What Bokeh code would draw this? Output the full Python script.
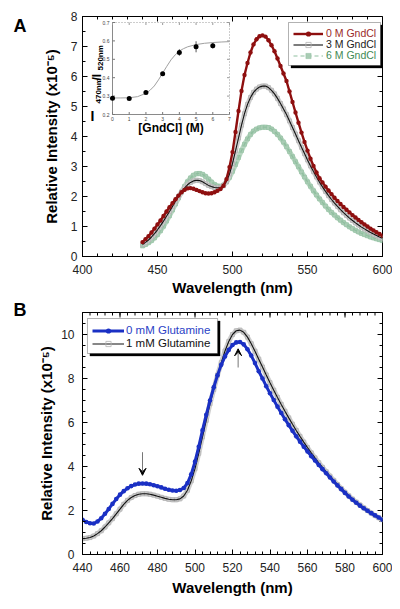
import math
from bokeh.plotting import figure
from bokeh.layouts import column
from bokeh.models import (Range1d, SingleIntervalTicker, Legend, LegendItem,
                          BoxAnnotation, Label, Arrow, VeeHead)
from bokeh.core.properties import value
from bokeh.embed import file_html
from bokeh.resources import INLINE

FONT = "Liberation Sans"

# ---------------- data: panel A ----------------
wavelength_a = list(range(440, 601, 2))
gndcl_0M = [0.48, 0.58, 0.68, 0.80, 0.93, 1.07, 1.20, 1.35, 1.50, 1.64, 1.78, 1.91, 2.03, 2.14, 2.22, 2.27,
            2.28, 2.26, 2.22, 2.18, 2.14, 2.11, 2.10, 2.11, 2.14, 2.19, 2.25, 2.36, 2.58, 2.98, 3.48,
            4.15, 4.85, 5.52, 6.05, 6.45, 6.80, 7.07, 7.24, 7.34, 7.37, 7.33, 7.21, 7.04, 6.84, 6.60,
            6.35, 6.10, 5.85, 5.50, 5.15, 4.80, 4.46, 4.13, 3.82, 3.53, 3.26, 3.02, 2.80, 2.61, 2.47,
            2.33, 2.20, 2.08, 1.96, 1.85, 1.75, 1.65, 1.56, 1.47, 1.38, 1.30, 1.22, 1.14, 1.07, 1.00,
            0.93, 0.87, 0.81, 0.75, 0.69]
gndcl_3M = [0.40, 0.47, 0.55, 0.65, 0.76, 0.89, 1.03, 1.18, 1.34, 1.50, 1.67, 1.84, 2.00, 2.15, 2.28, 2.39,
            2.47, 2.52, 2.54, 2.53, 2.49, 2.43, 2.37, 2.33, 2.30, 2.29, 2.30, 2.36, 2.50, 2.75, 3.10,
            3.52, 3.95, 4.38, 4.76, 5.07, 5.30, 5.47, 5.58, 5.65, 5.68, 5.68, 5.63, 5.54, 5.42, 5.27,
            5.10, 4.92, 4.73, 4.52, 4.30, 4.08, 3.86, 3.64, 3.43, 3.22, 3.02, 2.83, 2.65, 2.48, 2.32,
            2.17, 2.03, 1.90, 1.78, 1.67, 1.56, 1.46, 1.37, 1.28, 1.20, 1.12, 1.05, 0.98, 0.92, 0.86,
            0.80, 0.75, 0.70, 0.65, 0.61]
gndcl_6M = [0.35, 0.40, 0.46, 0.53, 0.62, 0.73, 0.86, 1.01, 1.18, 1.36, 1.55, 1.75, 1.95, 2.15, 2.33, 2.49,
            2.62, 2.71, 2.76, 2.77, 2.74, 2.67, 2.58, 2.48, 2.40, 2.35, 2.34, 2.38, 2.48, 2.64, 2.84,
            3.07, 3.30, 3.53, 3.74, 3.92, 4.07, 4.18, 4.25, 4.29, 4.31, 4.31, 4.30, 4.25, 4.17, 4.07,
            3.95, 3.81, 3.66, 3.50, 3.33, 3.16, 2.99, 2.82, 2.65, 2.49, 2.34, 2.19, 2.05, 1.92, 1.80,
            1.68, 1.57, 1.47, 1.38, 1.29, 1.21, 1.13, 1.06, 0.99, 0.93, 0.87, 0.82, 0.77, 0.73, 0.69,
            0.65, 0.62, 0.59, 0.56, 0.53]
gndcl_labels = ["0 M GndCl", "3 M GndCl", "6 M GndCl"]

# inset: ratio I470/I520 vs [GndCl]
inset_conc = [0, 1, 2, 3, 4, 5, 6]
inset_ratio = [0.288, 0.287, 0.319, 0.422, 0.537, 0.568, 0.574]
inset_err_conc = [4, 5, 6]
inset_err_ratio = [0.537, 0.568, 0.574]
inset_err = [0.018, 0.030, 0.015]
fit_conc = [0, 0.5, 1, 1.5, 2, 2.25, 2.5, 2.75, 3, 3.25, 3.5, 3.75, 4, 4.25, 4.5, 5, 5.5, 6, 6.5, 7]
fit_ratio = [0.290, 0.290, 0.291, 0.297, 0.315, 0.332, 0.355, 0.388, 0.425, 0.462, 0.497, 0.524,
             0.545, 0.558, 0.568, 0.580, 0.587, 0.591, 0.594, 0.596]
inset_xticks = [0, 1, 2, 3, 4, 5, 6, 7]
inset_yticks = [0.2, 0.3, 0.4, 0.5, 0.6, 0.7]

# ---------------- data: panel B ----------------
wavelength_b = list(range(440, 601, 2))
glutamine_0mM = [1.58, 1.48, 1.42, 1.41, 1.50, 1.65, 1.85, 2.07, 2.30, 2.52, 2.72, 2.88, 3.01, 3.11, 3.18, 3.22,
                 3.23, 3.22, 3.19, 3.15, 3.10, 3.05, 2.99, 2.94, 2.91, 2.90, 2.93, 3.02, 3.25, 3.65, 4.22,
                 4.90, 5.65, 6.35, 7.00, 7.60, 8.15, 8.62, 9.00, 9.30, 9.52, 9.64, 9.66, 9.55, 9.33, 9.04,
                 8.70, 8.33, 8.00, 7.65, 7.33, 7.02, 6.72, 6.43, 6.15, 5.88, 5.62, 5.37, 5.13, 4.90, 4.68,
                 4.47, 4.27, 4.07, 3.88, 3.69, 3.50, 3.32, 3.14, 2.97, 2.80, 2.64, 2.49, 2.35, 2.22, 2.10,
                 1.99, 1.88, 1.78, 1.68, 1.58]
glutamine_1mM = [0.72, 0.74, 0.77, 0.84, 0.95, 1.08, 1.25, 1.44, 1.63, 1.85, 2.06, 2.28, 2.46, 2.59, 2.68, 2.74,
                 2.76, 2.76, 2.74, 2.70, 2.65, 2.60, 2.55, 2.51, 2.49, 2.49, 2.53, 2.66, 2.92, 3.35, 3.90,
                 4.60, 5.35, 6.10, 6.85, 7.50, 8.15, 8.72, 9.25, 9.68, 10.00, 10.17, 10.20, 10.10, 9.88, 9.58,
                 9.24, 8.88, 8.52, 8.16, 7.81, 7.47, 7.14, 6.82, 6.51, 6.21, 5.92, 5.64, 5.37, 5.11, 4.86,
                 4.62, 4.39, 4.17, 3.96, 3.76, 3.56, 3.37, 3.18, 3.00, 2.83, 2.67, 2.52, 2.38, 2.25, 2.12,
                 2.00, 1.88, 1.77, 1.67, 1.58]
glutamine_labels = ["0 mM Glutamine", "1 mM Glutamine"]
arrow_wl = [472, 523]
arrow_from = [4.65, 8.5]
arrow_to = [3.6, 9.35]

# ---------------- colours ----------------
RED = "#8e0f0f"
RED_TXT = "#9b2a2a"
GREEN_MK = "#a9ccb4"
GREEN_BAND = "#b8d6c1"
GREEN_LN = "#8fbf9f"
GREEN_TXT = "#3f8a55"
BLUE = "#1a30c4"
BLUE_TXT = "#2b3fc6"
GRAY_MK = "#b4b4b4"
GRAY_BAND = "#cfcfcf"


def make_fig(w, h, xr, yr, ml, mr, mt, mb):
    p = figure(width=w, height=h, x_range=Range1d(*xr), y_range=Range1d(*yr),
               output_backend="svg", toolbar_location=None,
               min_border_left=ml, min_border_right=mr, min_border_top=mt, min_border_bottom=mb)
    p.outline_line_color = "black"
    p.outline_line_width = 1
    p.xgrid.visible = False
    p.ygrid.visible = False
    p.background_fill_color = "white"
    p.border_fill_color = "white"
    return p


def style_axis(ax, standoff, label_standoff, label):
    ax.axis_line_color = "black"
    ax.major_tick_line_color = "black"
    ax.minor_tick_line_color = "black"
    ax.major_tick_in = 5
    ax.major_tick_out = 0
    ax.minor_tick_in = 3
    ax.minor_tick_out = 0
    ax.major_label_text_font = FONT
    ax.major_label_text_font_size = "12px"
    ax.major_label_text_color = "#222222"
    ax.major_label_standoff = standoff
    ax.axis_label = label
    ax.axis_label_text_font = FONT
    ax.axis_label_text_font_size = "15px"
    ax.axis_label_text_font_style = "bold"
    ax.axis_label_text_color = "black"
    ax.axis_label_standoff = label_standoff


def mirror_ticks(p, xr, yr, xint, xminor, yint, yminor, px_per_x, px_per_y):
    """tick marks on the top and right frame edges (same ticker as the bottom/left axes)"""
    xmaj = [xr[0] + i * xint for i in range(int(round((xr[1] - xr[0]) / xint)) + 1)]
    xmin = [xr[0] + i * xint / xminor for i in range(int(round((xr[1] - xr[0]) / xint * xminor)) + 1)]
    ymaj = [yr[0] + i * yint for i in range(int(round((yr[1] - yr[0]) / yint)) + 1)]
    ymin = [yr[0] + i * yint / yminor for i in range(int(round((yr[1] - yr[0]) / yint * yminor)) + 1)]
    for ticks, ln in ((xmaj, 5), (xmin, 3)):
        p.segment(x0=ticks, x1=ticks, y0=[yr[1]] * len(ticks), y1=[yr[1] - ln / px_per_y] * len(ticks),
                  line_color="black", line_width=1)
    for ticks, ln in ((ymaj, 5), (ymin, 3)):
        p.segment(x0=[xr[1]] * len(ticks), x1=[xr[1] - ln / px_per_x] * len(ticks), y0=ticks, y1=ticks,
                  line_color="black", line_width=1)


def add_legend_row(p, label, renderers, loc, color, font_size, glyph_w, standoff):
    leg = Legend(items=[LegendItem(label=label, renderers=renderers)], location=loc,
                 padding=0, margin=0, spacing=0, border_line_color=None,
                 background_fill_alpha=0, glyph_width=glyph_w, glyph_height=13, label_height=13,
                 label_standoff=standoff, label_text_font=FONT, label_text_font_size=font_size,
                 label_text_color=color)
    p.add_layout(leg)


def panel_letter(p, text, cx, cy):
    p.add_layout(Label(x=cx, y=cy, x_units="canvas", y_units="canvas", text=text, text_font=FONT,
                       text_font_style="bold", text_font_size="18px", text_color="black",
                       text_align="left", text_baseline="alphabetic"), "left")


# =============== Panel A ===============
A_TOP = 0                                   # page y of figure top
A_L, A_R, A_T, A_B = 82, 382, 16, 256      # frame in page px
A_X, A_Y = (400, 600), (0, 8)
apx = (A_R - A_L) / (A_X[1] - A_X[0])
apy = (A_B - A_T) / (A_Y[1] - A_Y[0])


def a_data(px, py):
    return (A_X[0] + (px - A_L) / apx, A_Y[1] - (py - A_T) / apy)


pa = make_fig(A_R + 10, 298, A_X, A_Y, A_L, 10, A_T - A_TOP, 298 - (A_B - A_TOP))
pa.xaxis.ticker = SingleIntervalTicker(interval=50, num_minor_ticks=5)
pa.yaxis.ticker = SingleIntervalTicker(interval=1, num_minor_ticks=2)
style_axis(pa.below[0], 8, 2, "Wavelength (nm)")
style_axis(pa.left[0], 5, 8, "Relative Intensity (x10\u207b\u2075)")
mirror_ticks(pa, A_X, A_Y, 50, 5, 1, 2, apx, apy)

# curves (green bottom, then black, then red)
pa.line(wavelength_a, gndcl_6M, line_color=GREEN_BAND, line_width=5)
g_sc = pa.scatter(wavelength_a, gndcl_6M, marker="square", size=4, fill_color=GREEN_MK,
                  line_color=GREEN_LN, line_width=0.5)
g_ln = pa.line(wavelength_a, gndcl_6M, line_color=GREEN_LN, line_width=1.2, line_dash="4 3")
pa.line(wavelength_a, gndcl_3M, line_color=GRAY_BAND, line_width=5)
k_sc = pa.scatter(wavelength_a, gndcl_3M, marker="square", size=4, fill_color=None,
                  line_color=GRAY_MK, line_width=0.8)
k_ln = pa.line(wavelength_a, gndcl_3M, line_color="#111111", line_width=1.1)
r_ln = pa.line(wavelength_a, gndcl_0M, line_color=RED, line_width=2.4)
r_sc = pa.scatter(wavelength_a, gndcl_0M, marker="circle", size=4.4, fill_color=RED,
                  line_color=None)

# inset drawn in the upper-left of panel A using extra ranges
I_L, I_R, I_T, I_B = 112, 229, 22, 114
I_X, I_Y = (0, 7), (0.2, 0.7)
isx = (I_R - I_L) / (I_X[1] - I_X[0])
isy = (I_B - I_T) / (I_Y[1] - I_Y[0])
pa.extra_x_ranges = {"ix": Range1d(I_X[0] - (I_L - A_L) / isx, I_X[1] + (A_R - I_R) / isx)}
pa.extra_y_ranges = {"iy": Range1d(I_Y[0] - (A_B - I_B) / isy, I_Y[1] + (I_T - A_T) / isy)}
IN = dict(x_range_name="ix", y_range_name="iy")


def i_data(px, py):
    return ((px - I_L) / isx + I_X[0], I_Y[1] - (py - I_T) / isy)


pa.quad(left=[I_X[0]], right=[I_X[1]], bottom=[I_Y[0]], top=[I_Y[1]],
        fill_color="white", line_color=None, **IN)
pa.line([I_X[0], I_X[0], I_X[1]], [I_Y[1], I_Y[0], I_Y[0]], line_color="#8a8a8a", line_width=1, **IN)
pa.line([I_X[0], I_X[1], I_X[1]], [I_Y[1], I_Y[1], I_Y[0]], line_color="#9a9a9a", line_width=1,
        line_dash="1 2", **IN)
tlx, tly = 2.5 / isx, 2.5 / isy
pa.segment(x0=inset_xticks, y0=[I_Y[0]] * len(inset_xticks), x1=inset_xticks,
           y1=[I_Y[0] + tly] * len(inset_xticks), line_color="#777777", **IN)
pa.segment(x0=inset_xticks, y0=[I_Y[1]] * len(inset_xticks), x1=inset_xticks,
           y1=[I_Y[1] - tly] * len(inset_xticks), line_color="#999999", **IN)
pa.segment(x0=[I_X[0]] * len(inset_yticks), y0=inset_yticks, x1=[I_X[0] + tlx] * len(inset_yticks),
           y1=inset_yticks, line_color="#777777", **IN)
pa.segment(x0=[I_X[1]] * len(inset_yticks), y0=inset_yticks, x1=[I_X[1] - tlx] * len(inset_yticks),
           y1=inset_yticks, line_color="#999999", **IN)
pa.text(x=inset_xticks, y=[I_Y[0] - 2.5 / isy] * len(inset_xticks), text=[str(t) for t in inset_xticks],
        text_font=value(FONT), text_font_size=value("5px"), text_color="#444444",
        text_align="center", text_baseline="top", **IN)
pa.text(x=[I_X[0] - 3 / isx] * len(inset_yticks), y=inset_yticks, text=["%.1f" % t for t in inset_yticks],
        text_font=value(FONT), text_font_size=value("5px"), text_color="#444444",
        text_align="right", text_baseline="middle", **IN)
pa.line(fit_conc, fit_ratio, line_color="#a0a0a0", line_width=1, **IN)
pa.segment(x0=inset_err_conc, x1=inset_err_conc,
           y0=[r - e for r, e in zip(inset_err_ratio, inset_err)],
           y1=[r + e for r, e in zip(inset_err_ratio, inset_err)],
           line_color="#555555", line_width=1, **IN)
pa.scatter(inset_conc, inset_ratio, marker="circle", size=5, fill_color="black", line_color=None, **IN)

# inset axis labels
xl = i_data((I_L + I_R) / 2, 127)
pa.text(x=[xl[0]], y=[xl[1]], text=["[GndCl] (M)"], text_font=value(FONT), text_font_size=value("12px"),
        text_font_style="bold", text_color="black", text_align="center", text_baseline="middle", **IN)
pieces = [("I", 90, 115, 0.0, "14px"),
          ("470nm", 97.5, 103, math.pi / 2, "8px"),
          ("/I", 96.5, 80, math.pi / 2, "12px"),
          ("520nm", 99.5, 70, math.pi / 2, "8px")]
for txt, px, py, ang, fs in pieces:
    xx, yy = i_data(px, py)
    pa.text(x=[xx], y=[yy], text=[txt], angle=ang, text_font=value(FONT), text_font_size=value(fs),
            text_font_style="bold", text_color="black", text_align="left",
            text_baseline="alphabetic", **IN)

# legend A with shadow
SH = 2.5
bl, bt = a_data(288, 22)
br, bb = a_data(380, 65)
sl, st = a_data(288 + SH, 22 + SH)
sr, sb = a_data(380 + SH, 65 + SH)
pa.add_layout(BoxAnnotation(left=sl, right=sr, top=st, bottom=sb, fill_color="black", fill_alpha=1,
                            line_color="black", line_width=1))
pa.add_layout(BoxAnnotation(left=bl, right=br, top=bt, bottom=bb, fill_color="white", fill_alpha=1,
                            line_color="black", line_width=1))
rows_a = [(r_ln, r_sc, RED_TXT, 33), (k_ln, k_sc, "#222222", 44), (g_ln, g_sc, GREEN_TXT, 55)]
for (ln, sc, col, cy), lab in zip(rows_a, gndcl_labels):
    add_legend_row(pa, lab, [ln, sc], (293 - A_L, A_B - cy - 6.5), col, "10.5px", 30, 3)

panel_letter(pa, "A", 13, 25 - A_TOP)

# =============== Panel B ===============
B_TOP = 298  # page y of figure top
B_L, B_R, B_T, B_B = 80, 382, 312, 554
B_X, B_Y = (440, 600), (0, 11)
bpx = (B_R - B_L) / (B_X[1] - B_X[0])
bpy = (B_B - B_T) / (B_Y[1] - B_Y[0])


def b_data(px, py):
    return (B_X[0] + (px - B_L) / bpx, B_Y[1] - (py - B_T) / bpy)


pb = make_fig(B_R + 10, 306, B_X, B_Y, B_L, 10, B_T - B_TOP, 306 - (B_B - B_TOP))
pb.xaxis.ticker = SingleIntervalTicker(interval=20, num_minor_ticks=5)
pb.yaxis.ticker = SingleIntervalTicker(interval=2, num_minor_ticks=4)
style_axis(pb.below[0], 8, 4, "Wavelength (nm)")
style_axis(pb.left[0], 8, 3, "Relative Intensity (x10\u207b\u2075)")
mirror_ticks(pb, B_X, B_Y, 20, 5, 2, 4, bpx, bpy)

pb.line(wavelength_b, glutamine_1mM, line_color=GRAY_BAND, line_width=5)
k2_sc = pb.scatter(wavelength_b, glutamine_1mM, marker="square", size=4, fill_color=None,
                   line_color=GRAY_MK, line_width=0.8)
k2_ln = pb.line(wavelength_b, glutamine_1mM, line_color="#111111", line_width=1.1)
b_ln = pb.line(wavelength_b, glutamine_0mM, line_color=BLUE, line_width=3)
b_sc = pb.scatter(wavelength_b, glutamine_0mM, marker="circle", size=4.6, fill_color=BLUE,
                  line_color=None)

for xw, y0, y1 in zip(arrow_wl, arrow_from, arrow_to):
    pb.add_layout(Arrow(end=VeeHead(size=7, fill_color="black", line_color="black", line_width=1),
                        x_start=xw, y_start=y0, x_end=xw, y_end=y1,
                        line_color="#777777", line_width=1))

bl, bt = b_data(85, 318)
br, bb = b_data(216, 353)
sl, st = b_data(85 + SH, 318 + SH)
sr, sb = b_data(216 + SH, 353 + SH)
pb.add_layout(BoxAnnotation(left=sl, right=sr, top=st, bottom=sb, fill_color="black", fill_alpha=1,
                            line_color="black", line_width=1))
pb.add_layout(BoxAnnotation(left=bl, right=br, top=bt, bottom=bb, fill_color="white", fill_alpha=1,
                            line_color="black", line_width=1))
rows_b = [(b_ln, b_sc, BLUE_TXT, 330), (k2_ln, k2_sc, "#111111", 343)]
for (ln, sc, col, cy), lab in zip(rows_b, glutamine_labels):
    add_legend_row(pb, lab, [ln, sc], (90 - B_L, B_B - cy - 6.5), col, "11.5px", 32, 2)

panel_letter(pb, "B", 13, 309 - B_TOP)

layout = column(pa, pb, spacing=0)
open("out.html", "w").write(file_html(layout, INLINE))
